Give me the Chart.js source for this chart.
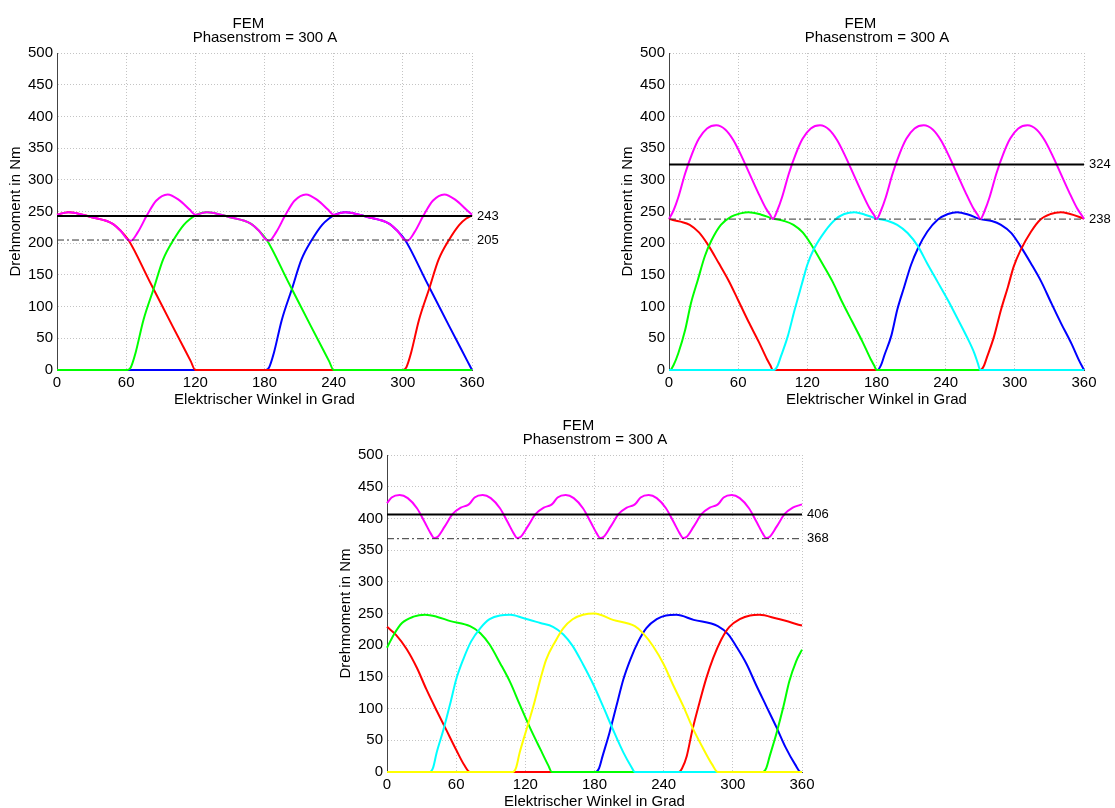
<!DOCTYPE html>
<html>
<head>
<meta charset="utf-8">
<title>FEM Drehmoment</title>
<script src="https://cdn.jsdelivr.net/npm/chart.js@4/dist/chart.umd.min.js"></script>
<style>
  html, body { margin: 0; padding: 0; width: 1115px; height: 808px; overflow: hidden; background: #fff; }
  canvas { position: absolute; }
</style>
</head>
<body>
<canvas id="c1" width="530" height="410" style="left:0px;top:0px"></canvas>
<canvas id="c2" width="530" height="410" style="left:612px;top:0px"></canvas>
<canvas id="c3" width="530" height="410" style="left:330px;top:402px"></canvas>
<script>
// === DATA (Winkel in Grad, Drehmoment in Nm) ===
const xTicks = [0, 60, 120, 180, 240, 300, 360];
const yTicks = [0, 50, 100, 150, 200, 250, 300, 350, 400, 450, 500];

// --- Diagramm 1: 3 Phasen ---
const c1RedX = [0, 10, 30, 48, 55, 62, 80, 100, 116, 120, 300, 303, 307, 314, 323, 331, 340, 349, 355, 360];
const c1RedY = [245, 249, 241, 231, 220, 205, 141, 70, 14, 0, 0, 4, 26, 79, 129, 174, 205, 229, 239, 244];
const c1GreenX = [0, 61, 64, 68, 75, 84, 92, 101, 110, 116, 120, 130, 150, 168, 175, 182, 200, 220, 236, 240, 360];
const c1GreenY = [0, 0, 4, 26, 79, 129, 174, 205, 229, 239, 244, 249, 241, 231, 220, 205, 141, 70, 14, 0, 0];
const c1BlueX = [0, 181, 184, 188, 195, 204, 212, 221, 230, 236, 240, 250, 270, 288, 295, 302, 320, 340, 356, 360];
const c1BlueY = [0, 0, 4, 26, 79, 129, 174, 205, 229, 239, 244, 249, 241, 231, 220, 205, 141, 70, 14, 0];
const c1SumX = [0, 10, 30, 48, 55, 61, 64, 70, 78, 86, 96, 106, 115, 120, 130, 150, 168, 175, 181, 184, 190, 198, 206, 216, 226, 235, 240,
                250, 270, 288, 295, 301, 304, 310, 318, 326, 336, 346, 355, 360];
const c1SumY = [245, 249, 241, 231, 220, 206, 204, 217, 244, 267, 277, 268, 253, 245, 249, 241, 231, 220, 206, 204, 217, 244, 267, 277, 268, 253, 245,
                249, 241, 231, 220, 206, 204, 217, 244, 267, 277, 268, 253, 245];
const c1Mean = 243;
const c1Min = 205;

// --- Diagramm 2: 4 Phasen ---
const c2RedX = [0, 10, 18, 26, 34, 43, 52, 60, 69, 78, 85, 88, 90, 270, 273, 276, 282, 288, 294, 299, 305, 314, 322, 331, 340, 348, 360];
const c2RedY = [238, 234, 229, 217, 197, 169, 140, 110, 76, 44, 17, 7, 0, 0, 6, 21, 53, 95, 131, 163, 189, 218, 237, 246, 249, 246, 239];
const c2GreenX = [0, 1, 4, 8, 14, 19, 25, 31, 37, 45, 54, 62, 69, 80, 90, 100, 108, 116, 124, 133, 142, 150, 159, 168, 175, 178, 180, 360];
const c2GreenY = [0, 0, 8, 26, 63, 105, 142, 179, 205, 229, 242, 247, 249, 245, 239, 235, 229, 217, 196, 168, 139, 108, 76, 44, 17, 7, 0, 0];
const c2CyanX = [0, 91, 94, 97, 103, 109, 115, 120, 126, 135, 144, 152, 161, 170, 180, 190, 198, 207, 216, 224, 233, 242, 250, 259, 265, 268, 270, 360];
const c2CyanY = [0, 0, 6, 21, 53, 95, 134, 166, 192, 218, 237, 246, 249, 245, 239, 235, 229, 216, 195, 168, 139, 110, 82, 50, 26, 10, 0, 0];
const c2BlueX = [0, 181, 184, 187, 193, 198, 204, 210, 216, 224, 233, 242, 250, 260, 270, 280, 288, 297, 305, 314, 323, 331, 340, 349, 356, 360];
const c2BlueY = [0, 0, 8, 24, 55, 95, 131, 166, 192, 218, 237, 246, 249, 245, 238, 235, 229, 216, 195, 168, 139, 108, 74, 42, 14, 0];
const c2SumX = [0, 4, 8, 14, 20, 26, 33, 41, 49, 56, 63, 70, 77, 84, 88,
                90, 94, 98, 104, 110, 116, 123, 131, 139, 146, 153, 160, 167, 174, 178,
                180, 184, 188, 194, 200, 206, 213, 221, 229, 236, 243, 250, 257, 264, 268,
                270, 274, 278, 284, 290, 296, 303, 311, 319, 326, 333, 340, 347, 354, 358, 360];
const c2SumY = [238, 252, 272, 310, 341, 365, 381, 386, 379, 362, 337, 309, 281, 255, 244,
                238, 252, 272, 310, 341, 365, 381, 386, 379, 362, 337, 309, 281, 255, 244,
                238, 252, 272, 310, 341, 365, 381, 386, 379, 362, 337, 309, 281, 255, 244,
                238, 252, 272, 310, 341, 365, 381, 386, 379, 362, 337, 309, 281, 255, 244, 238];
const c2Mean = 324;
const c2Min = 238;

// --- Diagramm 3: 5 Phasen ---
const c3RedX = [0, 8, 17, 26, 34, 43, 51, 60, 67, 72, 253, 256, 260, 265, 271, 277, 283, 290, 297, 306, 315, 323, 338, 360];
const c3RedY = [229, 216, 194, 164, 131, 97, 68, 35, 11, 0, 0, 6, 25, 67, 109, 148, 180, 209, 229, 241, 247, 248, 242, 231];
const c3GreenX = [0, 6, 13, 23, 33, 43, 55, 72, 81, 89, 98, 107, 115, 124, 133, 140, 143, 326, 329, 332, 338, 344, 349, 355, 360];
const c3GreenY = [196, 217, 235, 245, 248, 245, 238, 230, 219, 201, 172, 141, 107, 70, 36, 10, 0, 0, 6, 25, 62, 104, 143, 175, 193];
const c3CyanX = [0, 37, 40, 43, 49, 55, 60, 66, 73, 81, 89, 98, 107, 118, 133, 144, 153, 161, 170, 179, 188, 196, 205, 212, 215, 360];
const c3CyanY = [0, 0, 7, 30, 67, 109, 146, 177, 206, 227, 241, 247, 248, 243, 235, 229, 217, 199, 170, 138, 101, 67, 31, 8, 0, 0];
const c3YellowX = [0, 109, 112, 115, 121, 127, 133, 138, 146, 153, 161, 170, 180, 196, 215, 222, 231, 240, 248, 257, 265, 274, 282, 287, 360];
const c3YellowY = [0, 0, 7, 30, 67, 104, 146, 177, 206, 227, 241, 248, 250, 240, 230, 219, 198, 170, 138, 104, 70, 38, 12, 0, 0];
const c3BlueX = [0, 181, 184, 187, 193, 199, 205, 211, 218, 225, 234, 242, 251, 266, 287, 296, 303, 312, 320, 329, 338, 346, 354, 359, 360];
const c3BlueY = [0, 0, 6, 25, 62, 104, 146, 177, 206, 227, 241, 247, 248, 240, 230, 217, 198, 170, 138, 104, 70, 38, 12, 0, 0];
const c3SumX = [0, 4, 11, 18, 26, 33, 38, 41, 44, 50, 57, 64, 70,
                72, 76, 83, 90, 98, 105, 110, 113, 116, 122, 129, 136, 142,
                144, 148, 155, 162, 170, 177, 182, 185, 188, 194, 201, 208, 214,
                216, 220, 227, 234, 242, 249, 254, 257, 260, 266, 273, 280, 286,
                288, 292, 299, 306, 314, 321, 326, 329, 332, 338, 345, 352, 358, 360];
const c3SumY = [424, 433, 437, 432, 416, 393, 376, 369, 371, 387, 407, 417, 421,
                424, 433, 437, 432, 416, 393, 376, 369, 371, 387, 407, 417, 421,
                424, 433, 437, 432, 416, 393, 376, 369, 371, 387, 407, 417, 421,
                424, 433, 437, 432, 416, 393, 376, 369, 371, 387, 407, 417, 421,
                424, 433, 437, 432, 416, 393, 376, 369, 371, 387, 407, 417, 421, 422];
const c3Mean = 406;
const c3Min = 368;

const titleLines = ["FEM        ", "Phasenstrom = 300 A"];
const xLabel = "Elektrischer Winkel in Grad";
const yLabel = "Drehmoment in Nm";

// === HELPERS ===
const FONT = '"Liberation Sans", Arial, sans-serif';
Chart.defaults.font.family = FONT;
Chart.defaults.color = "#000";

function pts(xs, ys) {
  return xs.map((x, i) => ({ x: x, y: ys[i] }));
}

function curve(xs, ys, color) {
  return {
    data: pts(xs, ys),
    borderColor: color,
    borderWidth: 2,
    pointRadius: 0,
    fill: false,
    clip: 3,
    cubicInterpolationMode: "monotone",
  };
}

function level(v, dashed) {
  return {
    data: [{ x: 0, y: v }, { x: 360, y: v }],
    borderColor: dashed ? "#333" : "#000",
    borderWidth: dashed ? 1 : 2,
    borderDash: dashed ? [7, 3, 2, 3] : [],
    pointRadius: 0,
    fill: false,
  };
}

// Werte rechts neben dem Diagramm (Mittelwert / Minimum)
function levelLabels(values) {
  return {
    id: "levelLabels",
    afterDatasetsDraw(chart) {
      const { ctx, chartArea, scales } = chart;
      ctx.save();
      ctx.font = "13px " + FONT;
      ctx.fillStyle = "#000";
      ctx.textAlign = "left";
      ctx.textBaseline = "middle";
      values.forEach((v) => {
        ctx.fillText(String(v), chartArea.right + 5, scales.y.getPixelForValue(v));
      });
      ctx.restore();
    },
  };
}

function makeChart(id, curves, mean, min) {
  const canvas = document.getElementById(id);
  const h = canvas.height;
  return new Chart(canvas.getContext("2d"), {
    type: "line",
    // oberste Linie zuerst (Chart.js zeichnet den ersten Datensatz zuletzt)
    data: { datasets: [level(mean, false), level(min, true)].concat(curves) },
    options: {
      responsive: false,
      animation: false,
      events: [],
      layout: { padding: 0 },
      plugins: {
        legend: { display: false },
        tooltip: { enabled: false },
        title: {
          display: true,
          text: titleLines,
          color: "#000",
          font: { size: 15, weight: "normal", lineHeight: "14px" },
          padding: { top: 17, bottom: 8 },
        },
      },
      scales: {
        x: {
          type: "linear",
          min: 0,
          max: 360,
          afterBuildTicks: (s) => { s.ticks = xTicks.map((v) => ({ value: v })); },
          afterFit: (s) => { s.height = h - 53 - 317; },
          ticks: { font: { size: 15 }, padding: 4, maxRotation: 0 },
          grid: { color: "#c4c4c4", lineWidth: 1, drawTicks: false },
          border: { color: "#444", width: 1, dash: [1, 2] },
          title: { display: true, text: xLabel, font: { size: 15 }, padding: { top: 0, bottom: 1 } },
        },
        y: {
          min: 0,
          max: 500,
          afterBuildTicks: (s) => { s.ticks = yTicks.map((v) => ({ value: v })); },
          afterFit: (s) => { s.width = 57; },
          ticks: { font: { size: 15 }, padding: 4 },
          grid: { color: "#c4c4c4", lineWidth: 1, drawTicks: false },
          border: { color: "#444", width: 1, dash: [1, 2] },
          title: { display: true, text: yLabel, font: { size: 15 }, padding: { top: 7, bottom: 0 } },
        },
        // leerer Rand rechts fuer die Beschriftung der Linien
        yR: {
          position: "right",
          min: 0,
          max: 500,
          afterFit: (s) => { s.width = 58; },
          ticks: { display: false },
          grid: { display: false, drawTicks: false },
          border: { display: false },
        },
      },
    },
    plugins: [levelLabels([mean, min])],
  });
}

// === CHARTS ===
makeChart("c1", [
  curve(c1SumX, c1SumY, "#ff00ff"),
  curve(c1GreenX, c1GreenY, "#00ff00"),
  curve(c1RedX, c1RedY, "#ff0000"),
  curve(c1BlueX, c1BlueY, "#0000ff"),
], c1Mean, c1Min);

makeChart("c2", [
  curve(c2SumX, c2SumY, "#ff00ff"),
  curve(c2CyanX, c2CyanY, "#00ffff"),
  curve(c2GreenX, c2GreenY, "#00ff00"),
  curve(c2RedX, c2RedY, "#ff0000"),
  curve(c2BlueX, c2BlueY, "#0000ff"),
], c2Mean, c2Min);

makeChart("c3", [
  curve(c3SumX, c3SumY, "#ff00ff"),
  curve(c3YellowX, c3YellowY, "#ffff00"),
  curve(c3CyanX, c3CyanY, "#00ffff"),
  curve(c3GreenX, c3GreenY, "#00ff00"),
  curve(c3RedX, c3RedY, "#ff0000"),
  curve(c3BlueX, c3BlueY, "#0000ff"),
], c3Mean, c3Min);
</script>
</body>
</html>
